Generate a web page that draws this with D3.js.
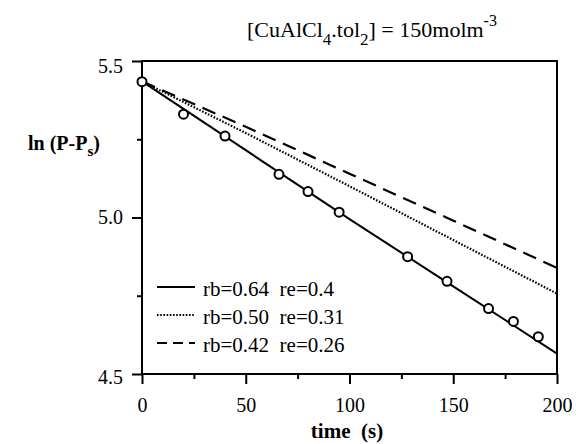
<!DOCTYPE html>
<html><head><meta charset="utf-8">
<script src="https://cdn.jsdelivr.net/npm/d3@7"></script>
<style>body{margin:0;background:#fff}svg{display:block}</style>
</head><body><svg id="c" width="576" height="444" font-family="Liberation Serif, DejaVu Serif, serif"></svg>
<script>
const obsTime = [0, 20, 40, 66, 80, 95, 128, 147, 167, 179, 191];
const obsLn = [5.434, 5.33, 5.26, 5.138, 5.083, 5.017, 4.875, 4.796, 4.709, 4.668, 4.619];
const modelTime = [0, 50, 100, 150, 200];
const solidLn = [5.435, 5.215, 4.995, 4.78, 4.565];
const dottedLn = [5.435, 5.27, 5.10, 4.928, 4.757];
const dashedLn = [5.435, 5.29, 5.14, 4.99, 4.839];
const legendLabels = ["rb=0.64  re=0.4", "rb=0.50  re=0.31", "rb=0.42  re=0.26"];
const xTicks = [0, 50, 100, 150, 200];
const xMinor = [25, 75, 125, 175];
const yTicks = [4.5, 5.0, 5.5];
const yMinor = [4.75, 5.25];

const FF = "'Liberation Serif', 'DejaVu Serif', serif";
const svg = d3.select("#c");
const L = 142, R = 557, T = 61, B = 374;
const x = d3.scaleLinear().domain([0, 200]).range([L, R]);
const y = d3.scaleLinear().domain([4.5, 5.5]).range([B, T]);

// frame
svg.append("rect").attr("x", L).attr("y", T).attr("width", R - L).attr("height", B - T)
  .attr("fill", "none").attr("stroke", "#000").attr("stroke-width", 2);

// bottom axis
const gx = svg.append("g").attr("transform", `translate(0,${B})`);
gx.call(d3.axisBottom(x).tickValues(xTicks).tickSize(10).tickFormat(d3.format("d")));
gx.append("g").call(d3.axisBottom(x).tickValues(xMinor).tickSize(5).tickFormat(""));
gx.selectAll(".domain").remove();
gx.attr("font-family", FF);
gx.selectAll("line").attr("stroke-width", 2);
gx.selectAll("text").attr("font-size", 20).style("font-family", FF).attr("y", 24).attr("dy", "0.71em");

// left axis
const gy = svg.append("g").attr("transform", `translate(${L},0)`);
gy.call(d3.axisLeft(y).tickValues(yTicks).tickSize(10).tickFormat(d3.format(".1f")));
gy.append("g").call(d3.axisLeft(y).tickValues(yMinor).tickSize(5).tickFormat(""));
gy.selectAll(".domain").remove();
gy.attr("font-family", FF);
gy.selectAll("line").attr("stroke-width", 2);
gy.selectAll("text").attr("font-size", 20).style("font-family", FF).attr("x", -19);
gy.selectAll(".tick").filter(d => d === 5.5).select("text").attr("dy", "0.55em");
gy.selectAll(".tick").filter(d => d === 4.5).select("text").attr("dy", "0.45em");

// lines
const line = d3.line().x(d => x(d[0])).y(d => y(d[1]));
const series = [
  {v: solidLn, dash: null, w: 2},
  {v: dottedLn, dash: "1.6,1.6", w: 2.2},
  {v: dashedLn, dash: "14,8", w: 2.2}
];
series.forEach(s => {
  svg.append("path").datum(modelTime.map((t, i) => [t, s.v[i]]))
    .attr("d", line).attr("fill", "none").attr("stroke", "#000")
    .attr("stroke-width", s.w).attr("stroke-dasharray", s.dash);
});

// points
svg.append("g").selectAll("circle").data(obsTime.map((t, i) => [t, obsLn[i]])).join("circle")
  .attr("cx", d => x(d[0])).attr("cy", d => y(d[1])).attr("r", 4.5)
  .attr("fill", "#fff").attr("stroke", "#000").attr("stroke-width", 2);

// legend
const legY = [287, 315, 343];
const legDash = [null, "1.6,1.6", "10,6"];
legendLabels.forEach((lab, i) => {
  svg.append("line").attr("x1", 157).attr("x2", 195).attr("y1", legY[i]).attr("y2", legY[i])
    .attr("stroke", "#000").attr("stroke-width", 2.2).attr("stroke-dasharray", legDash[i]);
  svg.append("text").attr("x", 203).attr("y", legY[i] + 9).attr("font-size", 21)
    .style("font-family", FF).style("white-space", "pre").text(lab);
});

// axis titles
svg.append("text").attr("x", 347).attr("y", 438).attr("text-anchor", "middle")
  .attr("font-size", 21).attr("font-weight", "bold").style("font-family", FF)
  .style("white-space", "pre").text("time  (s)");
const yl = svg.append("text").attr("x", 28).attr("y", 150).attr("font-size", 20)
  .attr("font-weight", "bold").style("font-family", FF).style("white-space", "pre");
yl.append("tspan").text("ln (P-P");
yl.append("tspan").attr("font-size", 15).attr("dy", 6).text("s");
yl.append("tspan").attr("dy", -6).text(")");

// title
const tt = svg.append("text").attr("x", 247).attr("y", 37).attr("font-size", 22).style("font-family", FF);
tt.append("tspan").text("[CuAlCl");
tt.append("tspan").attr("font-size", 17).attr("dy", 8).text("4");
tt.append("tspan").attr("dy", -8).text(".tol");
tt.append("tspan").attr("font-size", 17).attr("dy", 8).text("2");
tt.append("tspan").attr("dy", -8).text("] = 150molm");
tt.append("tspan").attr("font-size", 16).attr("dy", -11).text("-3");
</script></body></html>
